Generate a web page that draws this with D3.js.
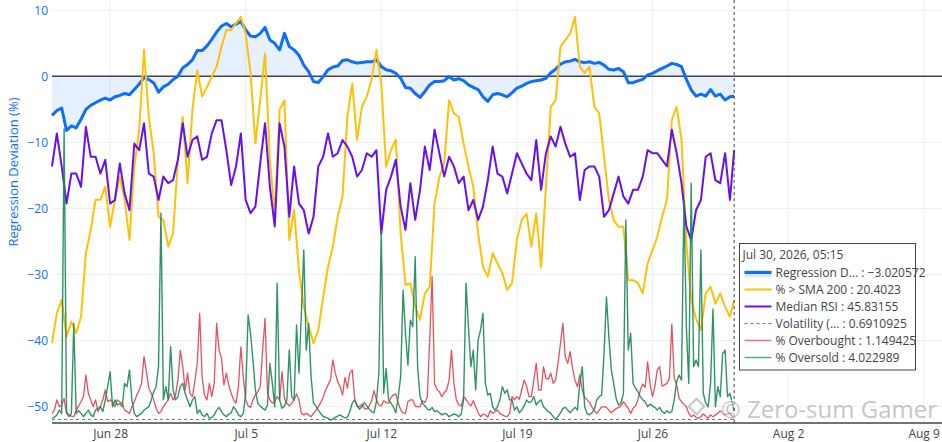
<!DOCTYPE html>
<html>
<head>
<meta charset="utf-8">
<script src="https://cdn.jsdelivr.net/npm/d3@7"></script>
<style>
  body { margin: 0; background: #fff; }
  svg { display: block; font-family: "Open Sans", verdana, arial, sans-serif; }
</style>
</head>
<body>
<svg id="chart" width="942" height="442"></svg>
<script>
// samples from Jun 25 00:00; the last sample of every series is the hover point
const startTime = new Date(2026, 5, 25, 0, 0);
const lastTime = new Date(2026, 6, 30, 5, 15);
const stepHours = 6;      // regression, % > SMA, RSI
const fineStepHours = 3;  // overbought / oversold

const regDev = [
  -5.9, -5.2, -4.8, -8.2, -7.5, -7.8, -6.5, -5.0, -4.4, -4.0,
  -3.6, -3.3, -3.6, -3.1, -2.9, -2.6, -2.8, -2.0, -1.2, -0.2,
  -0.5, -1.0, -2.4, -1.6, -1.2, -0.5, 0.0, 1.3, 1.8, 2.5,
  3.9, 3.9, 4.6, 5.6, 6.7, 7.6, 8.0, 7.5, 7.9, 8.3,
  7.0, 6.1, 6.0, 6.5, 7.4, 5.5, 5.0, 4.0, 6.5, 4.5,
  4.0, 3.2, 1.7, 0.7, -0.8, -0.95, -0.05, 1.0, 1.4, 1.56,
  2.4, 2.5, 2.2, 2.0, 2.1, 2.2, 2.2, 2.5, 1.5, 1.0,
  0.85, 0.45, -0.3, -1.7, -1.8, -2.6, -3.2, -2.3, -1.3, -0.8,
  -0.8, -0.66, -0.05, -0.56, -0.36, -0.66, -1.3, -1.67, -2.0, -3.1,
  -3.8, -2.8, -2.6, -2.8, -3.1, -2.5, -1.8, -1.5, -1.07, -0.8,
  -0.66, -0.56, -0.3, 0.55, 1.06, 1.86, 2.2, 2.3, 2.57, 2.2,
  2.07, 2.2, 1.96, 2.1, 1.7, 1.06, 0.95, 1.2, 0.7, -0.96,
  -0.96, -0.7, -0.46, 0.2, 0.45, 0.85, 1.2, 1.56, 1.96, 1.8,
  1.46, -0.46, -2.07, -3.0, -2.7, -3.0, -2.0, -3.0, -2.7, -3.6, -3.1,
  -3.020572
];

const pctAboveSma = [
  13.3, 18.3, 20.5, 14.4, 16.9, 15.0, 17.7, 28.3, 32.2, 37.2,
  37.2, 39.4, 32.7, 37.2, 41.0, 37.2, 30.5, 42.7, 48.8, 62.2,
  51.0, 45.0, 34.4, 33.8, 29.4, 31.6, 43.8, 51.0, 40.0, 52.2,
  58.8, 54.4, 56.0, 57.7, 59.4, 62.7, 65.5, 65.5, 66.6, 67.7,
  64.9, 58.3, 46.6, 53.8, 61.6, 43.8, 34.9, 52.2, 53.8, 30.5,
  35.5, 25.5, 19.4, 16.1, 13.3, 15.5, 21.0, 26.0, 29.4, 34.4,
  37.7, 51.0, 56.6, 47.2, 52.7, 54.4, 57.2, 62.2, 56.6, 42.7,
  45.5, 47.2, 31.6, 23.0, 23.3, 19.4, 17.2, 21.6, 22.7, 36.6,
  41.0, 43.3, 53.8, 51.6, 51.0, 46.6, 42.7, 39.4, 31.6, 26.0,
  24.4, 28.3, 26.6, 25.0, 22.2, 23.3, 30.5, 33.8, 34.9, 29.4,
  34.9, 26.0, 39.4, 52.7, 53.8, 62.7, 63.8, 64.9, 67.7, 59.4,
  58.3, 59.4, 52.7, 51.6, 44.4, 37.2, 33.8, 32.7, 32.7, 23.8,
  23.8, 23.3, 21.6, 26.6, 28.8, 31.0, 34.4, 37.2, 50.5, 52.7,
  47.2, 30.0, 20.5, 17.4, 15.5, 21.6, 22.7, 19.9, 21.6, 19.4, 17.7,
  20.4023
];

const medianRsi = [
  43.1, 48.6, 43.1, 36.9, 41.9, 41.9, 39.7, 49.7, 44.7, 44.7,
  41.9, 44.2, 36.9, 37.5, 43.6, 38.6, 35.8, 46.9, 45.8, 50.3,
  41.9, 41.4, 37.5, 41.4, 40.3, 40.8, 44.2, 50.3, 44.7, 47.5,
  48.1, 44.2, 44.7, 48.6, 50.8, 50.8, 45.8, 40.0, 43.1, 48.6,
  37.5, 35.3, 36.4, 43.6, 50.3, 39.7, 33.1, 50.3, 46.4, 34.7,
  43.1, 36.9, 35.8, 31.9, 34.7, 43.1, 44.7, 48.6, 44.7, 45.3,
  47.5, 46.4, 44.7, 41.4, 42.5, 45.3, 44.7, 45.8, 31.9, 39.2,
  41.4, 44.2, 36.4, 32.5, 40.3, 34.2, 39.2, 46.4, 42.5, 49.2,
  45.3, 41.4, 44.7, 43.1, 40.3, 41.4, 35.8, 37.5, 34.2, 36.4,
  40.8, 46.4, 41.9, 41.4, 38.6, 41.9, 45.3, 43.6, 41.9, 40.8,
  47.5, 39.2, 45.3, 48.1, 46.4, 49.7, 46.9, 44.7, 45.3, 37.5,
  42.5, 43.1, 43.1, 41.4, 34.7, 35.8, 38.6, 41.4, 38.1, 36.9,
  39.2, 39.2, 41.4, 45.8, 45.3, 45.3, 44.2, 43.1, 49.2, 45.3,
  40.3, 33.1, 30.8, 35.8, 37.5, 44.7, 45.3, 40.8, 40.3, 45.3, 37.5,
  45.83155
];

const pctOverbought = [
  3.2, 4.3, 7.7, 5.4, 6.0, 8.2, 3.2, 2.7, 2.3, 2.1,
  4.1, 5.7, 7.1, 8.8, 16.0, 9.9, 7.7, 5.4, 7.7, 3.8,
  5.4, 7.7, 11.0, 7.1, 7.7, 7.1, 5.4, 7.7, 7.1, 6.6,
  4.3, 3.8, 3.2, 5.4, 7.1, 9.3, 11.0, 13.2, 22.1, 17.1,
  11.6, 9.9, 7.7, 4.9, 3.2, 3.8, 5.4, 6.6, 7.7, 9.9,
  7.7, 9.3, 14.3, 24.3, 18.8, 11.0, 16.6, 9.9, 8.8, 13.8,
  19.9, 36.6, 15.4, 9.3, 7.7, 13.2, 8.8, 13.2, 33.2, 24.3,
  21.6, 12.7, 16.6, 12.7, 9.9, 7.7, 6.6, 12.1, 25.4, 15.4,
  7.7, 5.7, 5.2, 7.7, 9.3, 10.4, 12.1, 24.3, 34.9, 9.9,
  7.7, 6.6, 7.1, 8.8, 7.7, 17.1, 8.2, 6.6, 5.7, 6.6,
  7.7, 9.7, 7.7, 3.2, 2.7, 3.2, 2.7, 2.1, 3.2, 4.1,
  5.4, 6.8, 8.6, 11.0, 12.7, 14.3, 21.0, 16.6, 13.8, 12.1,
  9.3, 15.2, 11.6, 16.6, 17.7, 8.2, 5.7, 5.4, 6.3, 4.9,
  4.6, 5.7, 7.4, 10.8, 7.7, 6.0, 5.7, 7.4, 6.8, 6.6,
  8.6, 9.3, 9.7, 6.8, 4.3, 3.4, 3.2, 7.1, 7.7, 7.7,
  5.7, 5.4, 5.4, 7.4, 6.8, 8.6, 27.7, 48.8, 13.2, 11.2,
  10.4, 8.8, 10.1, 11.0, 14.3, 24.3, 13.2, 7.7, 6.0, 5.7,
  8.8, 7.9, 6.6, 5.7, 7.4, 5.4, 3.4, 2.1, 3.0, 2.7,
  1.9, 4.1, 3.2, 3.8, 4.3, 3.2, 2.7, 2.3, 2.1, 3.2,
  8.8, 7.7, 8.8, 7.9, 11.0, 14.3, 12.3, 8.8, 8.8, 14.3,
  19.9, 11.0, 11.0, 18.8, 14.9, 14.6, 16.6, 13.2, 14.3, 19.9,
  26.6, 33.2, 22.1, 19.9, 23.8, 18.2, 14.3, 12.1, 16.0, 11.0,
  8.6, 7.7, 6.8, 5.4, 4.1, 3.2, 4.3, 5.4, 5.4, 5.2,
  4.3, 3.4, 4.1, 4.8, 5.2, 5.7, 7.1, 6.0, 4.9, 3.2,
  4.9, 5.7, 7.7, 11.0, 13.0, 11.9, 20.4, 13.2, 8.8, 12.1,
  17.7, 18.8, 12.3, 12.7, 13.2, 14.9, 33.0, 14.9, 12.7, 8.2,
  7.1, 6.3, 5.4, 3.2, 2.1, 2.7, 1.9, 1.6, 2.1, 3.0,
  2.3, 1.6, 2.7, 2.1, 2.7, 3.2, 4.1, 3.2, 2.7, 3.0, 3.4,
  1.149425
];

const pctOversold = [
  1.6, 1.9, 2.7, 4.3, 3.2, 98.0, 3.8, 2.1, 3.2, 33.2,
  3.2, 4.1, 3.2, 2.1, 3.2, 4.3, 2.7, 2.1, 4.3, 4.9,
  5.4, 3.8, 7.7, 12.1, 17.1, 5.4, 7.7, 6.0, 6.6, 5.4,
  13.2, 12.1, 17.7, 7.7, 3.2, 2.1, 2.7, 3.2, 4.3, 4.9,
  5.4, 7.7, 10.4, 12.1, 18.8, 70.0, 7.7, 12.1, 7.7, 25.4,
  11.0, 7.7, 8.8, 12.1, 13.2, 9.9, 7.7, 5.4, 7.7, 8.8,
  3.2, 4.3, 2.7, 2.1, 3.2, 1.6, 1.9, 2.7, 4.3, 5.2,
  3.8, 2.7, 2.1, 3.0, 3.4, 5.4, 4.3, 2.7, 2.1, 3.2,
  9.9, 36.0, 29.9, 21.0, 11.0, 6.6, 5.7, 4.9, 4.3, 6.0,
  19.9, 13.2, 5.4, 46.6, 7.7, 4.9, 5.7, 7.7, 24.3, 8.8,
  7.7, 32.7, 16.6, 36.6, 57.7, 24.3, 33.2, 15.4, 6.6, 5.7,
  4.3, 3.2, 2.1, 1.9, 1.6, 1.0, 1.4, 1.9, 2.3, 2.7,
  2.1, 1.7, 1.9, 3.8, 6.6, 7.7, 5.7, 4.6, 5.4, 6.8,
  5.7, 4.6, 3.8, 3.4, 7.1, 16.6, 64.3, 9.9, 18.2, 7.7,
  6.6, 5.4, 3.4, 8.8, 15.4, 44.3, 29.9, 19.3, 34.3, 32.1,
  55.4, 18.8, 8.8, 6.6, 5.7, 4.6, 4.3, 5.2, 3.8, 4.1,
  3.4, 2.7, 3.2, 3.0, 2.1, 2.6, 3.0, 2.7, 2.1, 3.0,
  7.7, 46.6, 32.1, 18.8, 24.3, 11.0, 27.7, 31.0, 36.6, 13.2,
  9.3, 9.9, 5.4, 4.3, 5.4, 7.7, 12.1, 9.9, 11.0, 7.7,
  7.7, 4.3, 5.4, 3.4, 4.3, 5.7, 7.7, 6.8, 7.1, 8.8,
  6.0, 7.1, 7.7, 5.4, 4.6, 3.8, 3.2, 2.1, 1.2, 2.1,
  3.4, 4.9, 5.2, 4.3, 3.4, 4.3, 5.2, 4.3, 13.2, 18.8,
  5.4, 3.2, 2.7, 3.4, 4.6, 7.7, 8.8, 9.3, 23.2, 42.0,
  28.8, 17.7, 13.2, 8.2, 6.0, 6.6, 9.9, 67.7, 24.3, 29.9,
  13.2, 11.6, 10.4, 8.8, 7.7, 7.1, 5.4, 6.3, 5.7, 5.2,
  4.3, 5.2, 3.8, 3.2, 4.1, 3.4, 3.8, 7.7, 13.8, 16.0,
  14.3, 74.3, 32.1, 13.2, 79.9, 18.8, 21.0, 18.8, 57.7, 9.9,
  6.6, 5.4, 13.2, 38.0, 5.4, 12.1, 8.8, 23.2, 24.3, 8.8, 9.9,
  4.022989
];

// daily from Jun 25
const volatility = [
  0.72, 0.70, 0.71, 0.69, 0.68, 0.70, 0.73, 0.71, 0.70, 0.69,
  0.68, 0.70, 0.72, 0.71, 0.70, 0.69, 0.70, 0.71, 0.70, 0.68,
  0.69, 0.70, 0.71, 0.70, 0.69, 0.70, 0.71, 0.72, 0.70, 0.69,
  0.70, 0.71, 0.70, 0.69, 0.70, 0.69,
  0.6910925
];

const xTickDates = ["2026-06-28", "2026-07-05", "2026-07-12", "2026-07-19", "2026-07-26", "2026-08-02", "2026-08-09"];
const yTickValues = [10, 0, -10, -20, -30, -40, -50];

const legendNames = ["Regression D...", "% > SMA 200", "Median RSI", "Volatility (...", "% Overbought", "% Oversold"];
const legendValues = ["\u22123.020572", "20.4023", "45.83155", "0.6910925", "1.149425", "4.022989"];

const colors = {
  reg: "#0d6efd", sma: "#ffc107", rsi: "#6610f2",
  vol: "#6c757d", ob: "#dc3545", os: "#198754"
};

const width = 942, height = 442;
const mLeft = 52, mBottom = 423, mTop = 0, mRight = 943;

const svg = d3.select("#chart");
const parseDay = d3.timeParse("%Y-%m-%d");

function makeTimes(n, stepFn) {
  return d3.range(n - 1).map(stepFn).concat([lastTime]);
}
const times = makeTimes(regDev.length, i => d3.timeHour.offset(startTime, i * stepHours));
const fineTimes = makeTimes(pctOverbought.length, i => d3.timeHour.offset(startTime, i * fineStepHours));
const volTimes = makeTimes(volatility.length, i => d3.timeDay.offset(startTime, i));

const x = d3.scaleTime()
  .domain([startTime, new Date(2026, 7, 10)])
  .range([mLeft, mRight]);

const y = d3.scaleLinear().domain([-52.47, 11.55]).range([mBottom, mTop]);
// overlaying axes that are not shown
const ySma = d3.scaleLinear().domain([0, 100]).range([mBottom, -177]);
const yRsi = d3.scaleLinear().domain([20, 70]).range([305, 5]);
const yPct = d3.scaleLinear().domain([0, 100]).range([mBottom, 123]);
const yVol = d3.scaleLinear().domain([0, 10]).range([mBottom, 373]);

// grid
svg.append("g").selectAll("line")
  .data(xTickDates.map(parseDay))
  .enter().append("line")
  .attr("x1", d => x(d)).attr("x2", d => x(d))
  .attr("y1", mTop).attr("y2", mBottom)
  .attr("stroke", "#eee").attr("stroke-width", 1);

svg.append("g").selectAll("line")
  .data(yTickValues.filter(v => v !== 0))
  .enter().append("line")
  .attr("x1", mLeft).attr("x2", width)
  .attr("y1", d => y(d)).attr("y2", d => y(d))
  .attr("stroke", "#eee").attr("stroke-width", 1);

const plot = svg.append("g");

// regression deviation, filled to zero
const area = d3.area()
  .x((d, i) => x(times[i]))
  .y0(y(0))
  .y1(d => y(d));
plot.append("path")
  .datum(regDev)
  .attr("d", area)
  .attr("fill", "rgba(13,110,253,0.1)");

plot.append("line")
  .attr("x1", mLeft).attr("x2", width)
  .attr("y1", y(0)).attr("y2", y(0))
  .attr("stroke", "#444").attr("stroke-width", 1.5);

function drawLine(values, ts, scale, color, w, extra) {
  const line = d3.line()
    .x((d, i) => x(ts[i]))
    .y(d => scale(d));
  const p = plot.append("path")
    .datum(values)
    .attr("d", line)
    .attr("fill", "none")
    .attr("stroke", color)
    .attr("stroke-width", w)
    .attr("stroke-linejoin", "round");
  if (extra) extra(p);
  return p;
}

drawLine(regDev, times, y, colors.reg, 3);
drawLine(pctAboveSma, times, ySma, colors.sma, 2);
drawLine(medianRsi, times, yRsi, colors.rsi, 2);
drawLine(volatility, volTimes, yVol, colors.vol, 1, p => p.attr("stroke-dasharray", "3,3"));
drawLine(pctOverbought, fineTimes, yPct, colors.ob, 1.3, p => p.attr("stroke-opacity", 0.85));
drawLine(pctOversold, fineTimes, yPct, colors.os, 1.4, p => p.attr("stroke-opacity", 0.9));

// axes
const xAxis = d3.axisBottom(x)
  .tickValues(xTickDates.map(parseDay))
  .tickFormat(d3.timeFormat("%b %-d"))
  .tickSize(0).tickPadding(6.5);
const gx = svg.append("g")
  .attr("transform", "translate(0," + mBottom + ")")
  .call(xAxis);
gx.select(".domain").remove();
gx.selectAll("text").attr("fill", "#444").style("font-size", "12px").style("font-family", "\"Open Sans\", verdana, arial, sans-serif");

svg.append("line")
  .attr("x1", mLeft).attr("x2", width)
  .attr("y1", mBottom).attr("y2", mBottom)
  .attr("stroke", "#444").attr("stroke-width", 1.5);

const yAxis = d3.axisLeft(y)
  .tickValues(yTickValues)
  .tickSize(0).tickPadding(4);
const gy = svg.append("g")
  .attr("transform", "translate(" + mLeft + ",0)")
  .call(yAxis);
gy.select(".domain").remove();
gy.selectAll("text").attr("fill", colors.reg).style("font-size", "12px").style("font-family", "\"Open Sans\", verdana, arial, sans-serif");

svg.append("text")
  .attr("transform", "translate(18,172) rotate(-90)")
  .attr("text-anchor", "middle")
  .attr("fill", colors.reg)
  .style("font-size", "13px")
  .text("Regression Deviation (%)");

// hover spike line
svg.append("line")
  .attr("x1", x(lastTime)).attr("x2", x(lastTime))
  .attr("y1", mTop).attr("y2", mBottom)
  .attr("stroke", "#444").attr("stroke-width", 1)
  .attr("stroke-dasharray", "3,3");

// watermark
const wm = svg.append("g").attr("opacity", 0.55);
wm.append("rect")
  .attr("x", 691).attr("y", 401).attr("width", 11).attr("height", 11)
  .attr("transform", "rotate(45,696.5,406.5)")
  .attr("fill", "none").attr("stroke", "#999").attr("stroke-width", 2);
wm.append("text")
  .attr("x", 937).attr("y", 418)
  .attr("text-anchor", "end")
  .attr("fill", "#999")
  .attr("stroke", "#fff").attr("stroke-width", 2)
  .style("paint-order", "stroke")
  .style("font-size", "24px")
  .text("\u00a9 Zero-sum Gamer");

// hover label
const box = svg.append("g").attr("transform", "translate(739.5,243.5)");
box.append("rect")
  .attr("width", 176).attr("height", 126.5)
  .attr("fill", "#fff").attr("stroke", "#444").attr("stroke-width", 1);
box.append("text")
  .attr("x", 3).attr("y", 15)
  .attr("fill", "#444").style("font-size", "12px")
  .text(d3.timeFormat("%b %-d, %Y, %H:%M")(lastTime));

const keyStyles = [
  { c: colors.reg, w: 3, band: true },
  { c: colors.sma, w: 2 },
  { c: colors.rsi, w: 2 },
  { c: colors.vol, w: 1, dash: "3,3" },
  { c: colors.ob, w: 1.5, op: 0.7 },
  { c: colors.os, w: 1.5, op: 0.7 }
];

const rows = box.selectAll("g.row")
  .data(legendNames)
  .enter().append("g")
  .attr("class", "row")
  .attr("transform", (d, i) => "translate(0," + (29 + i * 17) + ")");

rows.each(function (d, i) {
  const g = d3.select(this);
  const s = keyStyles[i];
  if (s.band) {
    g.append("rect").attr("x", 5).attr("y", -3).attr("width", 27).attr("height", 8)
      .attr("fill", "rgba(13,110,253,0.15)");
  }
  g.append("line")
    .attr("x1", 5).attr("x2", 32).attr("y1", 0).attr("y2", 0)
    .attr("stroke", s.c).attr("stroke-width", s.w)
    .attr("stroke-dasharray", s.dash || null)
    .attr("stroke-opacity", s.op || 1);
  g.append("text")
    .attr("x", 36).attr("y", 4.5)
    .attr("fill", "#444").style("font-size", "12px")
    .text(d + " : " + legendValues[i]);
});
</script>
</body>
</html>
